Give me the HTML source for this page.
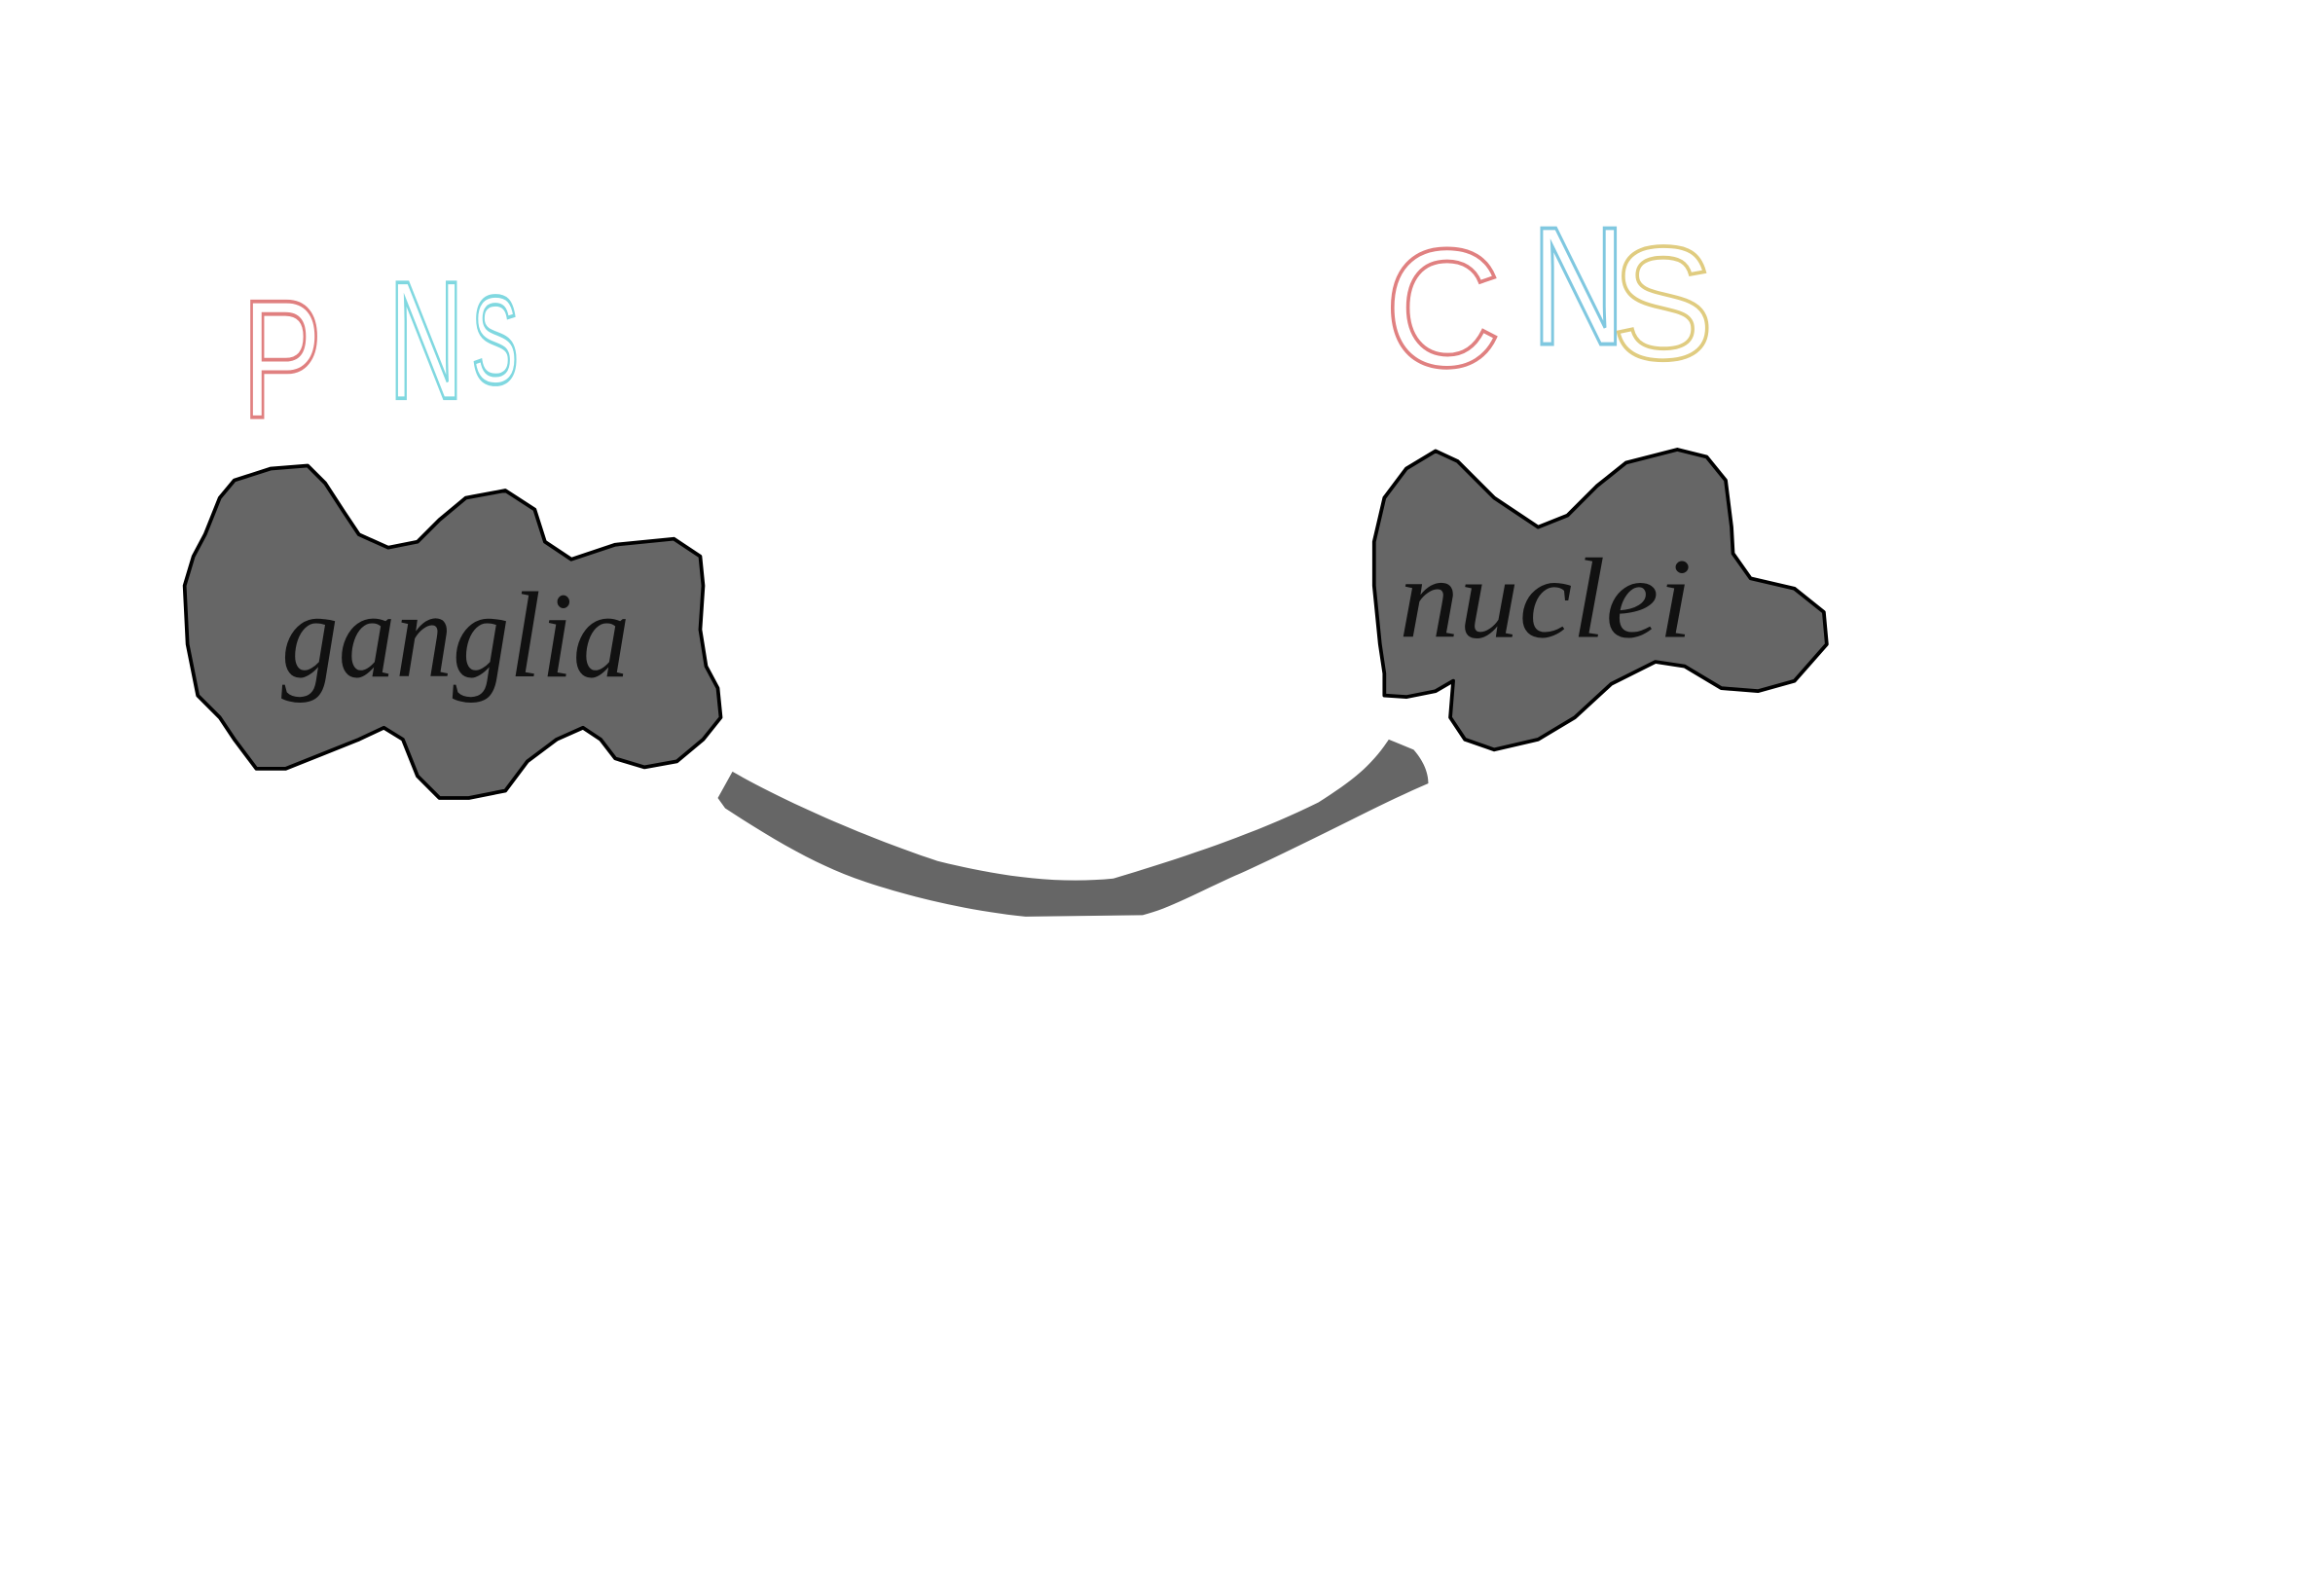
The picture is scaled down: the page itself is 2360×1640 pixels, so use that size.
<!DOCTYPE html>
<html><head><meta charset="utf-8"><style>
html,body{margin:0;padding:0;background:#fff;width:2360px;height:1640px;overflow:hidden}
svg{display:block}
</style></head><body>
<svg width="2360" height="1640" viewBox="0 0 1568 1090" preserveAspectRatio="none" xmlns="http://www.w3.org/2000/svg">
<rect width="1568" height="1090" fill="#fff"/>
<g font-family="Liberation Sans, sans-serif" font-weight="300" fill="none" stroke-width="2.5">
<text x="165" y="285" font-size="115" stroke="#e08080" textLength="55" lengthAdjust="spacingAndGlyphs">P</text>
<text x="265" y="272" font-size="115" stroke="#80d8e0" textLength="52" lengthAdjust="spacingAndGlyphs">N</text>
<text x="322" y="262" font-size="85" stroke="#80d8e0" textLength="32" lengthAdjust="spacingAndGlyphs">S</text>
</g>
<g font-family="Liberation Sans, sans-serif" font-weight="300" fill="none" stroke-width="2.5">
<text x="945" y="250" font-size="115" stroke="#e08080" textLength="80" lengthAdjust="spacingAndGlyphs">C</text>
<text x="1045" y="235" font-size="115" stroke="#80c8e0" textLength="65" lengthAdjust="spacingAndGlyphs">N</text>
<text x="1100" y="245" font-size="110" stroke="#e0cc80" textLength="70" lengthAdjust="spacingAndGlyphs">S</text>
</g>
<path fill="#666" stroke="#000" stroke-width="2.5" stroke-linejoin="round"
d="M135,475 L128,440 L126,400 L132,380 L140,365 L150,340 L160,328 L185,320 L210,318 L222,330 L235,350 L245,365 L265,374 L285,370 L300,355 L318,340 L345,335 L365,348 L372,370 L390,382 L420,372 L460,368 L478,380 L480,400 L478,430 L482,455 L490,470 L492,490 L480,505 L462,520 L440,524 L420,518 L410,505 L398,497 L380,505 L360,520 L345,540 L320,545 L300,545 L285,530 L275,505 L262,497 L245,505 L220,515 L195,525 L175,525 L160,505 L150,490 Z"/>
<path fill="#666" stroke="#000" stroke-width="2.5" stroke-linejoin="round"
d="M945,460 L942,440 L938,400 L938,370 L945,340 L960,320 L980,308 L995,315 L1020,340 L1050,360 L1070,352 L1090,332 L1110,316 L1145,307 L1165,312 L1178,328 L1182,360 L1183,378 L1195,395 L1225,402 L1245,418 L1247,440 L1225,465 L1200,472 L1175,470 L1150,455 L1130,452 L1100,467 L1075,490 L1050,505 L1020,512 L1000,505 L990,490 L992,465 L980,472 L960,476 L945,475 Z"/>
<path fill="#666" stroke="none"
d="M500,527 C540,550 600,575 640,588 C680,598 720,604 760,600 C810,585 860,568 900,548 C920,535 935,525 948,505 L965,512 C972,520 975,528 975,535 C940,550 900,572 850,595 C820,608 800,620 780,625 L700,626 C660,622 620,612 590,602 C560,592 530,575 495,552 L490,545 Z"/>
<text x="192" y="462" font-family="Liberation Serif, serif" font-style="italic" font-size="84" fill="#111" textLength="238" lengthAdjust="spacingAndGlyphs">ganglia</text>
<text x="955" y="435" font-family="Liberation Serif, serif" font-style="italic" font-size="78" fill="#111" textLength="200" lengthAdjust="spacingAndGlyphs">nuclei</text>
</svg>
</body></html>
